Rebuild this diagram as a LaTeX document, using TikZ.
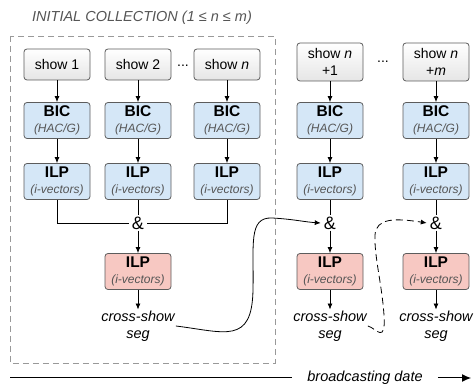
\documentclass[tikz,border=0pt]{standalone}
\usepackage{fontspec}
\setmainfont{Liberation Sans}
\usetikzlibrary{calc,arrows.meta}

\definecolor{edgegray}{HTML}{5C5C5C}
\definecolor{subgray}{HTML}{555555}
\definecolor{bluefill}{HTML}{D5E7F7}
\definecolor{redfill}{HTML}{F7C8C2}
\newcommand{\sublabel}[1]{{\fontsize{12}{14}\selectfont\itshape\color{subgray}#1}}

\tikzset{
  showbox/.style={draw=edgegray, line width=0.8pt, rounded corners=3pt,
    top color=white, bottom color=black!10, minimum width=66pt,
    align=center, inner sep=2pt, font=\fontsize{14}{17}\selectfont},
  stagebox/.style={draw=edgegray, line width=0.8pt, rounded corners=3pt,
    fill=bluefill, minimum width=66pt, minimum height=36pt,
    align=center, inner sep=1pt, font=\fontsize{15.5}{16}\selectfont},
  mergebox/.style={stagebox, fill=redfill},
  amp/.style={inner xsep=3pt, inner ysep=1pt, font=\fontsize{18}{18}\selectfont},
  segtext/.style={align=center, inner sep=1pt, font=\fontsize{14.5}{17}\selectfont\itshape},
  flow/.style={line width=0.8pt, -{Latex[length=6pt,width=5pt]}},
  link/.style={line width=0.8pt},
}

\begin{document}
\begin{tikzpicture}[x=1pt,y=-1pt]
  \useasboundingbox (0,0) rectangle (475,387);

  \node[font=\fontsize{14.5}{17}\selectfont\itshape, text=subgray] (head) at (142,18)
    {INITIAL COLLECTION (1 ≤ n ≤ m)};
  \draw[black!40, line width=0.8pt, dash pattern=on 6pt off 4pt] (10,36) rectangle (275,363);

  % one column per show
  \foreach \x/\n/\sy/\t in {57/1/64.5/{show 1}, 138/2/64.5/{show 2}, 227/3/64.5/{show \textit{n}},
                            330/4/62/{show \textit{n}\\+1}, 436/5/62/{show \textit{n}\\+\textit{m}}}{
    \node[showbox, minimum height={\n>3 ? 38 : 31}] (s\n) at (\x,\sy) {\t};
    \node[stagebox] (b\n) at (\x,120.5) {\textbf{BIC}\\\sublabel{(HAC/G)}};
    \node[stagebox] (i\n) at (\x,181.5) {\textbf{ILP}\\\sublabel{(i-vectors)}};
    \draw[flow] (s\n) -- (b\n);
    \draw[flow] (b\n) -- (i\n);
  }
  \node[font=\fontsize{14}{17}\selectfont] (dots1) at (183,66) {...};
  \node[font=\fontsize{14}{17}\selectfont] (dots2) at (383,62) {...};

  % merging step
  \foreach \x/\n in {138/2, 330/4, 436/5}{
    \node[amp] (m\n) at (\x,223) {\&};
    \node[mergebox] (r\n) at (\x,271.5) {\textbf{ILP}\\\sublabel{(i-vectors)}};
    \node[segtext] (c\n) at (\x,326) {cross-show\\seg};
    \draw[link] (i\n) -- (m\n);
    \draw[flow] (m\n) -- (r\n);
    \draw[flow] (r\n) -- (c\n);
  }
  \draw[link] (i1.south) |- (m2.west);
  \draw[link] (i3.south) |- (m2.east);

  % carried over to the next show
  \draw[flow] (c2.east) .. controls (225,332) and (252,345) .. (253,290)
    .. controls (254,245) and (248,217) .. (272,218)
    .. controls (292,219) and (305,222) .. (m4.west);
  \draw[flow, dash pattern=on 7pt off 4pt] (c4.east) .. controls (376,328) and (386,345) .. (384,315)
    .. controls (382,285) and (374,255) .. (375,235)
    .. controls (376,218) and (395,218) .. (m5.west);

  % time axis
  \node[segtext, inner xsep=15pt] (date) at (365,378) {broadcasting date};
  \coordinate (t0) at (10,378);
  \coordinate (t1) at (471,378);
  \draw[line width=1pt] (t0) -- (date.west);
  \draw[line width=1pt, -{Latex[length=9pt,width=8pt]}] (date.east) -- (t1);
\end{tikzpicture}
\end{document}
